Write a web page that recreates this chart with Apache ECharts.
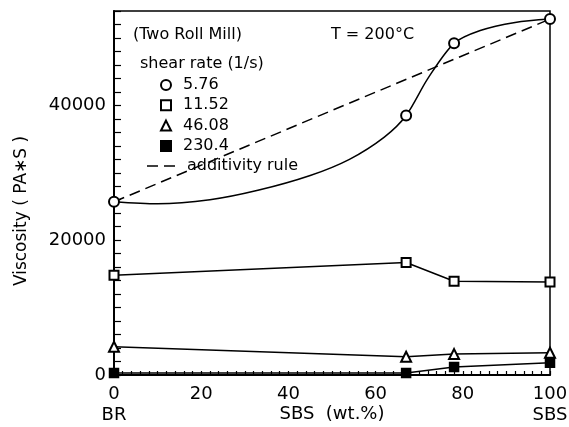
<!DOCTYPE html>
<html>
<head>
<meta charset="utf-8">
<script src="https://cdn.jsdelivr.net/npm/echarts@6/dist/echarts.min.js"></script>
<style>
  html, body { margin: 0; padding: 0; background: #fff; }
  #chart { width: 569px; height: 427px; }
</style>
</head>
<body>
<div id="chart"></div>
<script>
// SBS content (wt.%) of the measured blends
const sbsContent = [0, 67, 78, 100]

// viscosity (PA*S) for each shear rate
const visc576 = [25700, 38500, 49200, 52800]
const visc1152 = [14800, 16700, 13900, 13800]
const visc4608 = [4200, 2700, 3100, 3300]
const visc2304 = [300, 300, 1200, 1800]

// hand drawn curve through the 5.76 points
const curveX = [0, 10, 22, 33, 45, 54, 62, 67, 72, 78, 84, 92, 100]
const curveY = [25700, 25400, 26000, 27400, 29600, 32000, 35300, 38500, 44000, 49200, 51100, 52300, 52800]

// additivity rule: straight line between the pure components
const additX = [0, 100]
const additY = [25700, 52800]

const FONT = 'DejaVu Sans'

function pairs (xs, ys) {
  return xs.map((x, i) => [x, ys[i]])
}

const myChart = echarts.init(document.getElementById('chart'))

const markerSeries = (name, values, symbol, size) => ({
  type: 'line',
  name: name,
  data: pairs(sbsContent, values),
  symbol: symbol,
  symbolSize: size,
  showAllSymbol: true,
  lineStyle: { color: '#000', width: 1.5 },
  itemStyle: { color: '#000', borderColor: '#000', borderWidth: 1.5, opacity: 1 }
})

const legendText = {
  fontFamily: FONT,
  fontSize: 16,
  color: '#000',
  lineHeight: 16,
  padding: [0, 0, 0, 7]
}

myChart.setOption({
  animation: false,
  grid: {
    left: 114,
    right: 19,
    top: 11,
    bottom: 52,
    outerBoundsMode: 'none',
    containLabel: false,
    show: true,
    borderColor: '#000',
    borderWidth: 1.5
  },

  legend: [
    // shear rate markers
    {
      orient: 'vertical',
      left: 160,
      top: 77,
      padding: 0,
      itemWidth: 10,
      itemHeight: 10,
      itemGap: 4.3,
      selectedMode: false,
      textStyle: legendText,
      data: [
        { name: '5.76', icon: 'emptyCircle' },
        { name: '11.52', icon: 'emptyRect' },
        { name: '46.08', icon: 'emptyTriangle' },
        { name: '230.4', icon: 'rect' }
      ]
    },
    // dashed line entry, two dashes as icon
    {
      orient: 'vertical',
      left: 147,
      top: 158,
      padding: 0,
      itemWidth: 28,
      itemHeight: 10,
      selectedMode: false,
      textStyle: legendText,
      data: [
        { name: 'additivity rule', icon: 'path://M0,0h11v1.5h-11z M17,0h11v1.5h-11z' }
      ]
    }
  ],

  // titles inside the frame
  graphic: [
    {
      type: 'text', left: 133, top: 27,
      style: { text: '(Two Roll Mill)', font: '16px ' + FONT, fill: '#000' }
    },
    {
      type: 'text', left: 331, top: 27,
      style: { text: 'T = 200°C', font: '16px ' + FONT, fill: '#000' }
    },
    {
      type: 'text', left: 140, top: 56,
      style: { text: 'shear rate (1/s)', font: '16px ' + FONT, fill: '#000' }
    },
    {
      type: 'text', x: 22, y: 211, rotation: Math.PI / 2,
      style: {
        text: 'Viscosity ( PA∗S )', font: '17px ' + FONT, fill: '#000',
        align: 'center', verticalAlign: 'middle'
      }
    },
    {
      type: 'text', x: 332, y: 414,
      style: {
        text: 'SBS  (wt.%)', font: '18px ' + FONT, fill: '#000',
        align: 'center', verticalAlign: 'middle'
      }
    }
  ],

  xAxis: {
    type: 'value',
    min: 0,
    max: 100,
    interval: 2,
    axisLine: { lineStyle: { color: '#000', width: 2 } },
    axisTick: { inside: true, length: 4, lineStyle: { color: '#000', width: 1.2 } },
    splitLine: { show: false },
    axisLabel: {
      fontFamily: FONT,
      fontSize: 18,
      color: '#000',
      margin: 9,
      lineHeight: 21,
      formatter: v => {
        if (v % 20 !== 0) return ''
        if (v === 0) return '0\nBR'
        if (v === 100) return '100\nSBS'
        return String(v)
      }
    }
  },
  yAxis: {
    type: 'value',
    min: 0,
    max: 54000,
    interval: 2000,
    axisLine: { show: true, lineStyle: { color: '#000', width: 2 } },
    axisTick: { show: true, inside: true, length: 7, lineStyle: { color: '#000', width: 1.2 } },
    splitLine: { show: false },
    axisLabel: {
      fontFamily: FONT,
      fontSize: 18,
      color: '#000',
      margin: 8,
      formatter: v => (v % 20000 === 0 ? String(v) : '')
    }
  },

  series: [
    // fitted curve for 5.76, no markers
    {
      type: 'line',
      name: 'curve',
      data: pairs(curveX, curveY),
      smooth: 0.3,
      symbol: 'none',
      silent: true,
      lineStyle: { color: '#000', width: 1.5 }
    },
    {
      type: 'scatter',
      name: '5.76',
      data: pairs(sbsContent, visc576),
      symbol: 'emptyCircle',
      symbolSize: 10,
      itemStyle: { color: '#000', borderColor: '#000', borderWidth: 1.5, opacity: 1 },
      z: 5
    },
    markerSeries('11.52', visc1152, 'emptyRect', 9),
    markerSeries('46.08', visc4608, 'emptyTriangle', 10),
    markerSeries('230.4', visc2304, 'rect', 9),
    {
      type: 'line',
      name: 'additivity rule',
      data: pairs(additX, additY),
      symbol: 'none',
      itemStyle: { color: '#000' },
      lineStyle: { color: '#000', width: 1.5, type: [11, 6] }
    }
  ]
})
</script>
</body>
</html>
